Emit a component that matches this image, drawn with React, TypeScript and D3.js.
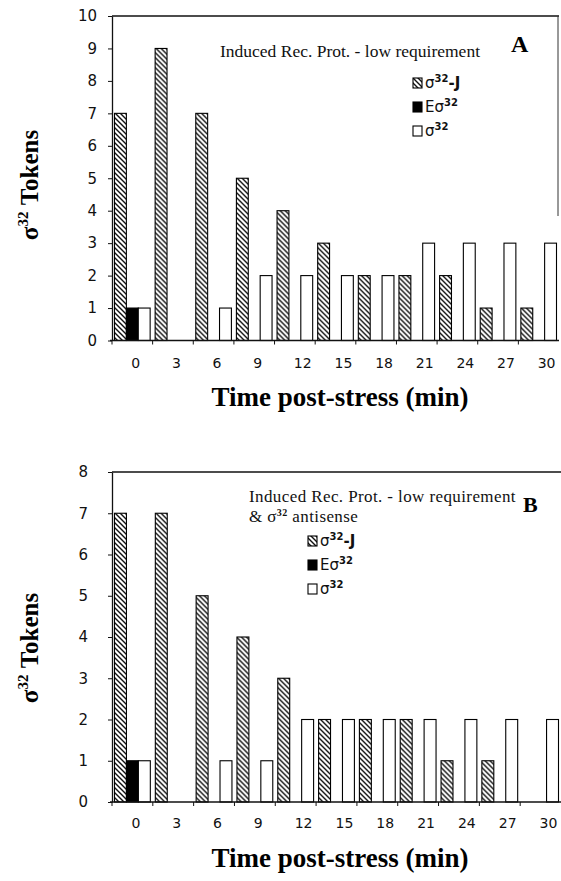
import React, { useRef, useEffect } from "react";
import * as d3 from "d3";

const categories = ["0", "3", "6", "9", "12", "15", "18", "21", "24", "27", "30"];
const seriesKeys = ["sigmaJ", "Esigma", "sigma"];

// panel A
const aSigmaJ = [7, 9, 7, 5, 4, 3, 2, 2, 2, 1, 1];
const aESigma = [1, 0, 0, 0, 0, 0, 0, 0, 0, 0, 0];
const aSigma = [1, 0, 1, 2, 2, 2, 2, 3, 3, 3, 3];
const aTicks = [0, 1, 2, 3, 4, 5, 6, 7, 8, 9, 10];

// panel B
const bSigmaJ = [7, 7, 5, 4, 3, 2, 2, 2, 1, 1, 0];
const bESigma = [1, 0, 0, 0, 0, 0, 0, 0, 0, 0, 0];
const bSigma = [1, 0, 1, 1, 2, 2, 2, 2, 2, 2, 2];
const bTicks = [0, 1, 2, 3, 4, 5, 6, 7, 8];

const W = 561;
const H = 881;
const sans = "'DejaVu Sans', Arial, sans-serif";
const serif = "'Liberation Serif', 'Times New Roman', serif";

export default function App() {
  const ref = useRef<SVGSVGElement>(null);

  useEffect(() => {
    const svg = d3.select(ref.current);
    svg.selectAll("*").remove();
    svg.attr("width", W).attr("height", H);
    svg.append("rect").attr("width", W).attr("height", H).attr("fill", "#fff");

    const pat = svg.append("defs").append("pattern")
      .attr("id", "hatch")
      .attr("patternUnits", "userSpaceOnUse")
      .attr("width", 5).attr("height", 5);
    pat.append("rect").attr("width", 5).attr("height", 5).attr("fill", "#fff");
    pat.append("path")
      .attr("d", "M-1,-1L6,6M-1,4L1,6M4,-1L6,1")
      .attr("stroke", "#111").attr("stroke-width", 1.4);

    const fills: Record<string, string> = { sigmaJ: "url(#hatch)", Esigma: "#000", sigma: "#fff" };

    function drawPanel(cfg: any) {
      const g = svg.append("g");
      const x = d3.scaleBand().domain(categories).range([112, cfg.right]).padding(0);
      const xs = d3.scaleBand().domain(seriesKeys).range([2.5, x.bandwidth() - 2.5]).padding(0);
      const y = d3.scaleLinear().domain([0, cfg.yMax]).range([cfg.bottom, cfg.top]);

      const rows = categories.map((c, i) => ({
        cat: c,
        vals: [
          { key: "sigmaJ", v: cfg.sj[i] },
          { key: "Esigma", v: cfg.e[i] },
          { key: "sigma", v: cfg.s[i] },
        ],
      }));

      // bars
      g.append("g")
        .selectAll("g")
        .data(rows)
        .join("g")
        .attr("transform", d => `translate(${x(d.cat)},0)`)
        .selectAll("rect")
        .data(d => d.vals.filter(v => v.v > 0))
        .join("rect")
        .attr("x", d => xs(d.key)!)
        .attr("y", d => y(d.v))
        .attr("width", xs.bandwidth())
        .attr("height", d => y(0) - y(d.v))
        .attr("fill", d => fills[d.key])
        .attr("stroke", "#000")
        .attr("stroke-width", 1.1);

      // frame
      g.append("line")
        .attr("x1", 112).attr("x2", cfg.right)
        .attr("y1", cfg.top).attr("y2", cfg.top)
        .attr("stroke", "#111").attr("stroke-width", 1.3);
      if (cfg.rightBorder) {
        g.append("line")
          .attr("x1", cfg.right - 1).attr("x2", cfg.right - 1)
          .attr("y1", cfg.top).attr("y2", cfg.top + 200)
          .attr("stroke", "#333").attr("stroke-width", 1);
      }

      // y axis
      const ya = g.append("g")
        .attr("transform", "translate(112,0)")
        .call(d3.axisLeft(y).tickValues(cfg.ticks).tickSize(4).tickSizeOuter(0).tickPadding(cfg.yPad).tickFormat(d3.format("d")));
      ya.select(".domain").attr("stroke", "#111").attr("stroke-width", 1.3);
      ya.selectAll(".tick line").attr("stroke", "#111");
      ya.selectAll(".tick text")
        .attr("font-family", sans).attr("font-size", 15).attr("fill", "#111");

      // x axis
      g.append("line")
        .attr("x1", 110).attr("x2", cfg.right)
        .attr("y1", y(0)).attr("y2", y(0))
        .attr("stroke", "#111").attr("stroke-width", 1.3);
      g.append("g").selectAll("line")
        .data(categories)
        .join("line")
        .attr("x1", d => x(d)!).attr("x2", d => x(d)!)
        .attr("y1", y(0)).attr("y2", y(0) + 4)
        .attr("stroke", "#111");
      g.append("g").selectAll("text")
        .data(categories)
        .join("text")
        .attr("x", d => x(d)! + x.bandwidth() / 2 - 1)
        .attr("y", cfg.xLabelY)
        .attr("font-family", sans).attr("font-size", 14).attr("fill", "#111")
        .text(d => d);

      // axis titles
      g.append("text")
        .attr("x", 340).attr("y", cfg.xTitleY)
        .attr("text-anchor", "middle")
        .attr("font-family", serif).attr("font-weight", "bold").attr("font-size", 27)
        .text("Time post-stress (min)");

      const yt = g.append("text")
        .attr("transform", `translate(38,${cfg.yTitleY}) rotate(-90)`)
        .attr("text-anchor", "middle")
        .attr("font-family", serif).attr("font-weight", "bold").attr("font-size", 25);
      yt.append("tspan").text("σ");
      yt.append("tspan").attr("dy", -10).attr("font-size", 15).text("32");
      yt.append("tspan").attr("dy", 10).text(" Tokens");

      // legend header
      g.append("text")
        .attr("x", cfg.hx).attr("y", cfg.hy)
        .attr("font-family", serif).attr("font-size", cfg.hsize)
        .attr("letter-spacing", cfg.hspace).attr("fill", "#111")
        .text("Induced Rec. Prot. - low requirement");
      if (cfg.antisense) {
        const t2 = g.append("text")
          .attr("x", cfg.hx).attr("y", cfg.hy + 19.5)
          .attr("font-family", serif).attr("font-size", cfg.hsize)
          .attr("letter-spacing", cfg.hspace).attr("fill", "#111");
        t2.append("tspan").text("& σ");
        t2.append("tspan").attr("dy", -6).attr("font-size", 10).attr("font-weight", "bold").text("32");
        t2.append("tspan").attr("dy", 6).text(" antisense");
      }
      g.append("text")
        .attr("x", cfg.lx).attr("y", cfg.ly)
        .attr("font-family", serif).attr("font-weight", "bold").attr("font-size", cfg.lsize)
        .text(cfg.letter);

      // legend items
      const items = [
        { key: "sigmaJ", pre: "", post: "-J" },
        { key: "Esigma", pre: "E", post: "" },
        { key: "sigma", pre: "", post: "" },
      ];
      items.forEach((it, i) => {
        const cy = cfg.rows[i];
        g.append("rect")
          .attr("x", cfg.bx).attr("y", cy - 5)
          .attr("width", 9).attr("height", 10)
          .attr("fill", fills[it.key]).attr("stroke", "#000").attr("stroke-width", 1.1);
        const t = g.append("text")
          .attr("x", cfg.bx + 12).attr("y", cy + 5)
          .attr("font-family", sans).attr("font-size", 15).attr("fill", "#111");
        t.append("tspan").text(it.pre + "σ");
        t.append("tspan").attr("dy", -6).attr("font-size", 10).attr("font-weight", "bold").text("32");
        if (it.post) t.append("tspan").attr("dy", 6).attr("font-weight", "bold").text(it.post);
      });
    }

    drawPanel({
      top: 16, bottom: 340.5, right: 559, yMax: 10, ticks: aTicks,
      sj: aSigmaJ, e: aESigma, s: aSigma,
      yPad: 11, xLabelY: 368, xTitleY: 406, yTitleY: 185,
      hx: 220, hy: 57, hsize: 17.5, hspace: 0, antisense: false,
      letter: "A", lx: 511, ly: 52, lsize: 24,
      bx: 413, rows: [83, 107, 131], rightBorder: true,
    });

    drawPanel({
      top: 472, bottom: 802, right: 561, yMax: 8, ticks: bTicks,
      sj: bSigmaJ, e: bESigma, s: bSigma,
      yPad: 20, xLabelY: 828, xTitleY: 867, yTitleY: 648,
      hx: 249, hy: 502, hsize: 17, hspace: 0.4, antisense: true,
      letter: "B", lx: 523, ly: 512, lsize: 22,
      bx: 308, rows: [541, 565, 589], rightBorder: false,
    });
  }, []);

  return (
    <svg ref={ref} style={{ position: "absolute", left: 0, top: 0, display: "block" }}></svg>
  );
}
